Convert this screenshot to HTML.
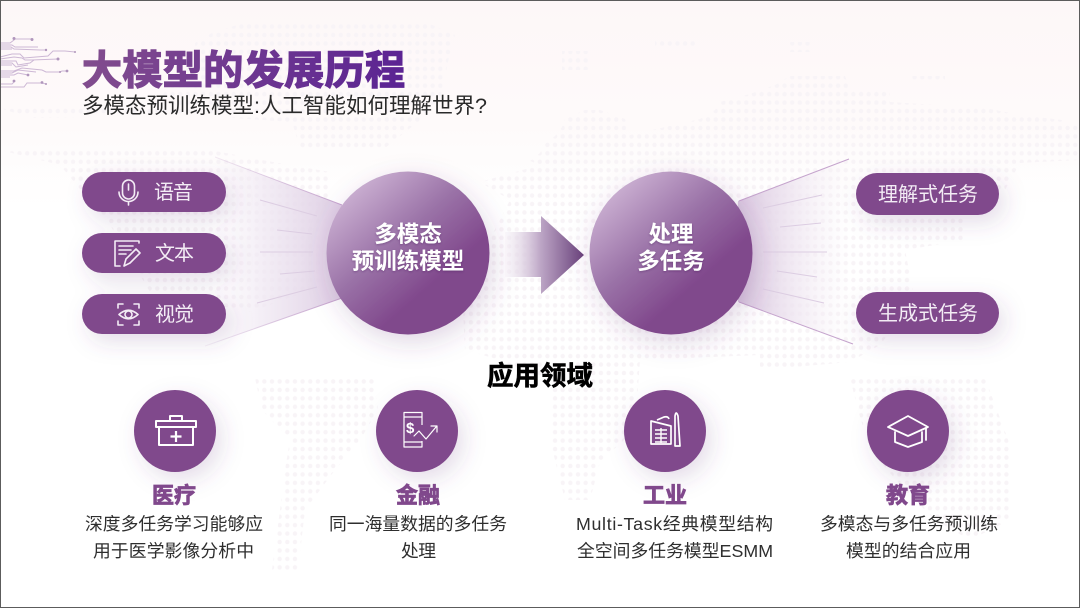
<!DOCTYPE html>
<html lang="zh"><head><meta charset="utf-8"><title>大模型的发展历程</title>
<style>
html,body{margin:0;padding:0;background:#fff;width:1080px;height:608px;overflow:hidden}
svg{display:block}
text{font-family:"Liberation Sans","Noto Sans CJK SC",sans-serif}
</style></head><body>
<svg width="1080" height="608" viewBox="0 0 1080 608" xmlns="http://www.w3.org/2000/svg">
<defs>
<linearGradient id="bg" x1="0" y1="0" x2="0" y2="1"><stop offset="0" stop-color="#fdf7f8"/><stop offset=".2" stop-color="#fefafa"/><stop offset=".34" stop-color="#ffffff"/><stop offset="1" stop-color="#ffffff"/></linearGradient>
<pattern id="dots" width="7.65" height="8.45" patternUnits="userSpaceOnUse" x="0.4" y="1.2"><circle cx="3.85" cy="0" r="2.2" fill="#f8f4f7"/><circle cx="3.85" cy="8.45" r="2.2" fill="#f8f4f7"/></pattern>
<linearGradient id="title" gradientUnits="userSpaceOnUse" x1="82" y1="50" x2="405" y2="88"><stop offset="0" stop-color="#824d8e"/><stop offset="1" stop-color="#5b2393"/></linearGradient>
<linearGradient id="ball" x1=".15" y1=".1" x2=".72" y2=".75"><stop offset="0" stop-color="#cbb0d2"/><stop offset=".5" stop-color="#9a72a7"/><stop offset=".9" stop-color="#80488c"/><stop offset="1" stop-color="#80488c"/></linearGradient>
<linearGradient id="coneL" gradientUnits="userSpaceOnUse" x1="215" y1="0" x2="345" y2="0"><stop offset="0" stop-color="#f3ecf5" stop-opacity="0"/><stop offset=".35" stop-color="#efe7f2" stop-opacity=".7"/><stop offset="1" stop-color="#dccbe2"/></linearGradient>
<linearGradient id="coneR" gradientUnits="userSpaceOnUse" x1="738" y1="0" x2="850" y2="0"><stop offset="0" stop-color="#d9c6df"/><stop offset=".55" stop-color="#efe6f1" stop-opacity=".7"/><stop offset="1" stop-color="#f6f0f6" stop-opacity="0"/></linearGradient>
<linearGradient id="edgeL" gradientUnits="userSpaceOnUse" x1="205" y1="0" x2="342" y2="0"><stop offset="0" stop-color="#c5a4cd" stop-opacity=".15"/><stop offset="1" stop-color="#c5a4cd"/></linearGradient>
<linearGradient id="arrow" gradientUnits="userSpaceOnUse" x1="505" y1="0" x2="584" y2="0"><stop offset="0" stop-color="#f5eff6" stop-opacity=".4"/><stop offset=".45" stop-color="#bda6c6"/><stop offset="1" stop-color="#68407a"/></linearGradient>
<filter id="sh" x="-40%" y="-80%" width="200%" height="300%"><feDropShadow dx="6" dy="8" stdDeviation="11" flood-color="#6b3a7c" flood-opacity=".17"/></filter>
<filter id="shb" x="-40%" y="-40%" width="190%" height="190%"><feDropShadow dx="4" dy="8" stdDeviation="13" flood-color="#6b3a7c" flood-opacity=".2"/></filter>
<filter id="ts" x="-10%" y="-20%" width="120%" height="140%"><feDropShadow dx="0" dy="1" stdDeviation="1" flood-color="#3e1a50" flood-opacity=".35"/></filter>
</defs>

<rect width="1080" height="608" fill="url(#bg)"/>

<!-- dotted world map -->
<g fill="url(#dots)">
<path d="M240 24L300 24L360 24L430 24L455 35L448 62L440 100L418 122L385 148L300 148L292 122L205 116L30 118L0 108L0 150L60 150L210 150L262 160L330 172L325 285L250 312L150 292L110 225L60 165L0 150L0 108L150 108L195 60L195 43L212 33Z"/>
<path d="M255 378L375 378L378 410L360 440L335 470L305 510L298 570L272 570L280 510L285 470L290 440L262 410Z"/>
<path d="M790 76L845 76L850 90L890 92L890 102L985 108L1020 115L1062 120L1080 126L1080 160L1020 163L1005 190L965 198L965 240L905 250L915 300L880 345L850 362L760 370L760 355L640 360L635 430L600 462L590 500L565 500L550 440L550 385L500 360L465 350L462 290L500 220L510 200L480 182L540 165L530 161L540 153L545 144L555 136L562 127L565 119L585 110L600 110L625 119L630 135L700 119L715 110L720 102L750 94L775 85Z"/>
<path d="M850 378L985 378L1010 445L1010 520L970 540L935 520L905 490L870 450L858 410Z"/>
<path d="M562 51L590 51L590 70L562 70Z"/><path d="M655 40L695 40L695 46L655 46Z"/><path d="M790 42L810 42L810 52L790 52Z"/><path d="M910 76L945 76L945 80L910 80Z"/>
</g>

<!-- circuit -->
<g fill="none" stroke="#cdb8d5" stroke-width="1">
<polyline points="0,43 10,43 14,40 14,39 32,39"/>
<polyline points="0,45 12,45 15,47 38,47"/>
<polyline points="0,47 11,47 14,49 40,50 46,50"/>
<polyline points="0,49 12,49"/>
<polyline points="0,57 12,54 20,54 24,58 48,56 53,51 65,51 75,52"/>
<polyline points="0,59 14,57 22,58 25,60 32,60 58,59"/>
<polyline points="0,61 16,61 18,65 30,63 34,60"/>
<polyline points="0,63 12,63 16,67 28,65"/>
<polyline points="0,65 12,65"/>
<polyline points="0,71 14,71 22,68 42,70 46,72 60,72 62,71 67,71"/>
<polyline points="0,73 12,73 18,70 36,72"/>
<polyline points="0,75 14,75 18,73 28,75"/>
<polyline points="0,77 10,77"/>
<polyline points="0,84 12,84 15,81"/>
<polyline points="0,87 24,87 27,83 42,83 46,84"/>
</g>
<g fill="#b096bc"><circle cx="14" cy="38.500" r="1.500"/><circle cx="32" cy="39.500" r="1.500"/><circle cx="46" cy="50" r="1.200"/><circle cx="58" cy="59" r="1.500"/><circle cx="75" cy="52" r="1"/><circle cx="67" cy="71" r="1.400"/><circle cx="28" cy="75" r="1.400"/><circle cx="42" cy="82.500" r="1.400"/><circle cx="14" cy="81" r="1.400"/><circle cx="46" cy="84" r="1"/><circle cx="60" cy="72" r="1"/></g>

<!-- cones -->
<polygon points="215,157 342,205 342,298 205,346" fill="url(#coneL)"/>
<polygon points="738,201 849,159 853,344 738,302" fill="url(#coneR)"/>
<g stroke="url(#edgeL)" stroke-width="1" fill="none">
<path d="M215 157L342 205"/><path d="M205 346L342 298"/>
</g>
<g stroke="#c5a4cd" stroke-width="1" fill="none">
<line x1="739" y1="201" x2="849" y2="159"/><line x1="739" y1="302" x2="853" y2="344"/>
</g>
<g stroke="#dccde2" stroke-width="1" fill="none">
<line x1="260" y1="200" x2="317" y2="216"/><line x1="277" y1="230" x2="312" y2="234"/><line x1="260" y1="252" x2="313" y2="252"/><line x1="280" y1="274" x2="315" y2="271"/><line x1="257" y1="303" x2="317" y2="287"/>
<line x1="763" y1="208" x2="822" y2="195"/><line x1="780" y1="227" x2="821" y2="223"/><line x1="763" y1="252" x2="827" y2="252"/><line x1="777" y1="271" x2="817" y2="277"/><line x1="763" y1="289" x2="824" y2="303"/>
</g>

<!-- title -->
<text x="82" y="84" font-size="40" font-weight="700" fill="url(#title)" stroke="url(#title)" stroke-width="1.400" textLength="323" lengthAdjust="spacing">大模型的发展历程</text>
<text x="82" y="113" font-size="21.500" fill="#2a2a2a" textLength="405" lengthAdjust="spacing">多模态预训练模型:人工智能如何理解世界?</text>

<!-- pills -->
<g fill="#80488c" filter="url(#sh)">
<rect x="82" y="172" width="144" height="40" rx="20"/>
<rect x="82" y="233" width="144" height="40" rx="20"/>
<rect x="82" y="294" width="144" height="40" rx="20"/>
<rect x="856" y="173" width="143" height="42" rx="21"/>
<rect x="856" y="292" width="143" height="42" rx="21"/>
</g>
<g fill="#f3ecf5" font-size="20">
<text x="154" y="199" textLength="39">语音</text>
<text x="155" y="260" textLength="39">文本</text>
<text x="155" y="321" textLength="39">视觉</text>
<text x="878" y="201" textLength="100">理解式任务</text>
<text x="878" y="320" textLength="100">生成式任务</text>
</g>
<!-- pill icons -->
<g fill="none" stroke="#f3ecf5" stroke-width="1.600" stroke-linecap="round" stroke-linejoin="round">
<rect x="122.500" y="180" width="12" height="19" rx="6"/><path d="M119 192a9.500 9.500 0 0 0 19 0M128.500 201.500V205M128.500 184V190"/>
<path d="M139 243V241H115V266H120M119 246H133M119 250H131M119 254H126"/><path d="M124 266L126 259L136 249L140 253L130 263Z"/>
<path d="M118 308V304H123M134 304H139V308M118 321V325H123M134 325H139V321"/><path d="M119 314.500Q128.500 306 138 314.500Q128.500 323 119 314.500Z"/><circle cx="128.500" cy="314.500" r="3.500"/>
</g>

<!-- big circles -->
<circle cx="408" cy="253" r="81.500" fill="url(#ball)" filter="url(#shb)"/>
<circle cx="671" cy="253" r="81.500" fill="url(#ball)" filter="url(#shb)"/>
<g fill="#fff" font-size="22.500" font-weight="700" text-anchor="middle" filter="url(#ts)">
<text x="408" y="242">多模态</text><text x="408" y="269">预训练模型</text>
<text x="671" y="242">处理</text><text x="671" y="269">多任务</text>
</g>

<!-- arrow -->
<polygon points="505,232 541,232 541,216 584,255 541,294 541,277 505,277" fill="url(#arrow)"/>

<!-- section -->
<text x="540" y="385" font-size="26.500" font-weight="700" fill="#000" stroke="#000" stroke-width=".6" text-anchor="middle">应用领域</text>

<!-- icon circles -->
<g fill="#80488c" filter="url(#sh)">
<circle cx="175" cy="431" r="41"/><circle cx="417" cy="431" r="41"/><circle cx="665" cy="431" r="41"/><circle cx="908" cy="431" r="41"/>
</g>
<g fill="none" stroke="#fff" stroke-linejoin="round">
<g stroke-width="2"><rect x="156" y="421" width="40" height="6"/><rect x="159" y="427" width="34" height="18"/><path d="M170 421V416H182V421"/><path d="M176 431V442M170.500 436.500H181.500" stroke-width="2.200"/></g>
<g stroke-width="1.200"><path d="M422 425V412.500H404V447H422V441M404 417H422M404 442H422"/><path d="M414 436L419 431L426 439L436 427M431 426H437V432" stroke-linecap="round"/></g>
<text x="406" y="433" font-size="15" font-weight="700" fill="#fff" stroke="none">$</text>
<g stroke-width="1.700"><path d="M651 421L671 426V444H651Z"/><path d="M655 430H667M655 434H667M655 438H667M655 442H667M661 428V443" stroke-width="1.400"/><path d="M675 446V416Q676 410 678 416L680 446Z"/><path d="M657 420L664 417Q668 416 669 419"/></g>
<g stroke-width="1.800" stroke-linecap="round"><path d="M888 427L908 416L928 427L908 436Z"/><path d="M895 432V442L908 447L922 442V432"/><path d="M926 428V440"/></g>
</g>

<!-- columns -->
<g font-size="22" font-weight="700" fill="#80488c" stroke="#80488c" stroke-width=".8" text-anchor="middle">
<text x="174" y="503">医疗</text><text x="418" y="503">金融</text><text x="665" y="503">工业</text><text x="908" y="503">教育</text>
</g>
<g font-size="17.800" fill="#2e2e2e">
<text x="85" y="530" textLength="178">深度多任务学习能够应</text>
<text x="93" y="557" textLength="161">用于医学影像分析中</text>
<text x="329" y="530" textLength="178">同一海量数据的多任务</text>
<text x="401" y="557" textLength="35">处理</text>
<text x="576" y="530" textLength="197">Multi-Task经典模型结构</text>
<text x="577" y="557" textLength="196">全空间多任务模型ESMM</text>
<text x="820" y="530" textLength="178">多模态与多任务预训练</text>
<text x="846" y="557" textLength="125">模型的结合应用</text>
</g>

<rect x=".5" y=".5" width="1079" height="607" fill="none" stroke="#5c5c5c" stroke-width="1"/>
</svg>
</body></html>
